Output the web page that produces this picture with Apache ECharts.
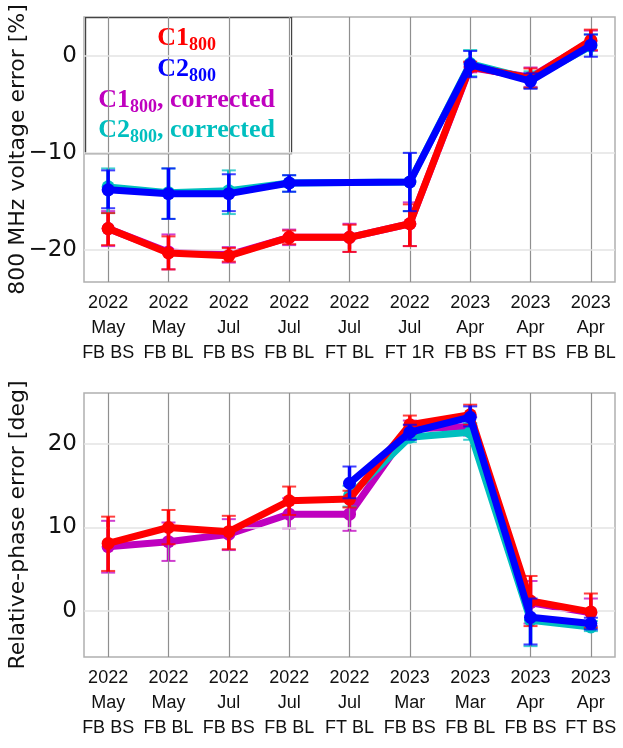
<!DOCTYPE html>
<html>
<head>
<meta charset="utf-8">
<script src="https://cdn.jsdelivr.net/npm/echarts@6/dist/echarts.min.js"></script>
<style>html,body{margin:0;padding:0;background:#fff}#c{width:623px;height:748px}</style>
</head>
<body>
<div id="c"></div>
<script>
// ---------- DATA ----------
const categoriesTop = ['2022\nMay\nFB BS','2022\nMay\nFB BL','2022\nJul\nFB BS','2022\nJul\nFB BL','2022\nJul\nFT BL','2022\nJul\nFT 1R','2023\nApr\nFB BS','2023\nApr\nFT BS','2023\nApr\nFB BL'];
const categoriesBottom = ['2022\nMay\nFB BS','2022\nMay\nFB BL','2022\nJul\nFB BS','2022\nJul\nFB BL','2022\nJul\nFT BL','2023\nMar\nFB BS','2023\nMar\nFB BL','2023\nApr\nFB BS','2023\nApr\nFT BS'];
const yTicksTop = [-20, -10, 0];
const yTicksBottom = [0, 10, 20];

// Top: 800 MHz voltage error [%]
const c1Top    = [-17.8, -20.3, -20.6, -18.7, -18.7, -17.3, -1.1, -2.3, 1.6];
const c1TopLo  = [-19.5, -22.0, -21.2, -19.4, -20.2, -19.6, -1.6, -3.3, 0.6];
const c1TopHi  = [-16.2, -18.6, -19.8, -18.0, -17.4, -15.3, -0.6, -1.3, 2.7];
const c1cTop   = [-17.8, -20.2, -20.5, -18.7, -18.7, -17.3, -1.2, -2.2, 1.5];
const c1cTopLo = [-19.6, -22.0, -21.3, -19.5, -20.2, -19.6, -1.7, -3.2, 0.5];
const c1cTopHi = [-16.0, -18.4, -19.7, -17.9, -17.3, -15.1, -0.7, -1.2, 2.6];
const c2Top    = [-13.8, -14.2, -14.2, -13.1, null, -13.0, -0.9, -2.6, 1.1];
const c2TopLo  = [-15.7, -16.8, -16.0, -14.0, null, -16.0, -2.2, -3.4, -0.1];
const c2TopHi  = [-11.8, -11.6, -12.2, -12.3, null, -10.0, 0.5, -1.8, 2.2];
const c2cTop   = [-13.5, -14.1, -13.9, -13.1, null, -13.0, -0.8, -2.4, 1.0];
const c2cTopLo = [-16.2, -16.8, -16.3, -14.0, null, -16.0, -2.1, -3.3, 0.0];
const c2cTopHi = [-11.6, -11.6, -11.8, -12.3, null, -10.0, 0.6, -1.6, 2.2];

// Bottom: relative-phase error [deg]
const c1Bot    = [8.1, 10.0, 9.5, 13.2, 13.4, 22.3, 23.5, 1.2, -0.1];
const c1BotLo  = [4.8, 8.0, 7.4, 11.5, 12.4, 21.2, 22.3, -1.8, -2.0];
const c1BotHi  = [11.3, 12.1, 11.4, 14.9, 14.4, 23.4, 24.7, 4.2, 2.1];
const c1cBot   = [7.7, 8.3, 9.2, 11.6, 11.6, 21.8, 22.1, 1.0, -0.2];
const c1cBotLo = [4.6, 6.0, 7.3, 9.9, 9.6, 20.8, 21.0, -1.5, -1.8];
const c1cBotHi = [10.8, 10.6, 11.0, 13.5, 13.6, 22.8, 23.2, 3.6, 1.5];
const c2Bot    = [null, null, null, null, 15.3, 21.4, 23.2, -0.75, -1.5];
const c2BotLo  = [null, null, null, null, 13.5, 20.5, 22.1, -4.0, -2.2];
const c2BotHi  = [null, null, null, null, 17.3, 22.3, 24.5, 1.5, -0.8];
const c2cBot   = [null, null, null, null, 13.8, 20.8, 21.4, -1.1, -1.9];
const c2cBotLo = [null, null, null, null, 12.5, 20.2, 20.5, -4.2, -2.4];
const c2cBotHi = [null, null, null, null, 15.0, 21.6, 22.5, 1.2, -1.2];

// ---------- STYLE ----------
const RED = '#ff0000', BLUE = '#0000ff', MAG = '#bf00bf', CYAN = '#00bfbf';
const X_FONT = 'Liberation Sans, sans-serif';
const Y_FONT = 'DejaVu Sans, sans-serif';

function pts(arr){ return arr.map((v,i)=>[i, v]); }
function errs(lo, hi){ const out=[]; lo.forEach((l,i)=>{ if(l!==null && hi[i]!==null) out.push([i,l,hi[i]]); }); return out; }
function minus(v){ return v < 0 ? '\u2212' + Math.abs(v) : String(v); }

function errSeries(name, lo, hi, color, gi, z){
  return {
    type:'custom', name, xAxisIndex:gi, yAxisIndex:gi, z, silent:true,
    data: errs(lo, hi),
    renderItem(params, api){
      const x = api.value(0);
      const p1 = api.coord([x, api.value(1)]);
      const p2 = api.coord([x, api.value(2)]);
      const hw = 7;
      return {type:'group', children:[
        {type:'line', shape:{x1:p1[0],y1:p1[1],x2:p2[0],y2:p2[1]}, style:{stroke:color, lineWidth:3.5}},
        {type:'line', shape:{x1:p1[0]-hw,y1:p1[1],x2:p1[0]+hw,y2:p1[1]}, style:{stroke:color, lineWidth:2, opacity:0.75}},
        {type:'line', shape:{x1:p2[0]-hw,y1:p2[1],x2:p2[0]+hw,y2:p2[1]}, style:{stroke:color, lineWidth:2, opacity:0.75}}
      ]};
    }
  };
}
function lineSeries(name, vals, color, gi, z){
  return {
    type:'line', name, xAxisIndex:gi, yAxisIndex:gi, z, silent:true,
    data: pts(vals), connectNulls:true,
    symbol:'circle', symbolSize:13,
    lineStyle:{color, width:7}, itemStyle:{color},
    animation:false
  };
}
function gridLineSeries(gi, yTicks){
  const d = [];
  for (let i=0;i<9;i++) d.push({xAxis:i, lineStyle:{color:'#8f8f8f', width:1.2, type:'solid'}});
  yTicks.forEach(v=>d.push({yAxis:v, lineStyle:{color:'#e3e3e3', width:1.5, type:'solid'}}));
  return {type:'line', xAxisIndex:gi, yAxisIndex:gi, z:0, data:[], silent:true,
    markLine:{silent:true, symbol:['none','none'], label:{show:false}, animation:false, data:d}};
}

const chart = echarts.init(document.getElementById('c'), null, {renderer:'canvas'});
const xAx = (gi, cats)=>({
  type:'value', gridIndex:gi, min:-0.4, max:8.4,
  axisLine:{show:false}, axisTick:{show:false}, splitLine:{show:false},
  axisLabel:{customValues:[0,1,2,3,4,5,6,7,8], formatter:v=>cats[Math.round(v)],
    showMinLabel:true, showMaxLabel:true, hideOverlap:false,
    fontFamily:X_FONT, fontSize:18, lineHeight:25, color:'#111', margin:9}
});
const yAx = (gi, min, max, ticks, name)=>({
  type:'value', gridIndex:gi, min, max,
  name, nameLocation:'middle', nameGap:55, nameRotate:90, nameMoveOverlap:false,
  nameTextStyle:{fontFamily:Y_FONT, fontSize:22, color:'#111'},
  axisLine:{show:false}, axisTick:{show:false}, splitLine:{show:false},
  axisLabel:{customValues:ticks, formatter:minus, fontFamily:Y_FONT, fontSize:23, color:'#111', margin:7}
});

function legendLine(main, sub, tail, color, y){
  const base = {fontFamily:'Liberation Serif, DejaVu Serif, serif', fontWeight:'bold', fill:color};
  return {type:'text', style:{
    x:101, y, align:'center', verticalAlign:'middle', fill:color,
    text:'{m|'+main+'}{s|'+sub+'}' + (tail ? '{m|'+tail+'}' : ''),
    rich:{ m:Object.assign({fontSize:26}, base), s:Object.assign({fontSize:18, padding:[14,0,0,0]}, base) }
  }};
}

chart.setOption({
  animation:false,
  backgroundColor:'#fff',
  grid:[
    {left:84, right:8, top:17, height:265, show:true, borderColor:'#b0b0b0', borderWidth:1.5, backgroundColor:'transparent', containLabel:false, outerBoundsMode:'none'},
    {left:84, right:8, top:393, height:264, show:true, borderColor:'#b0b0b0', borderWidth:1.5, backgroundColor:'transparent', containLabel:false, outerBoundsMode:'none'}
  ],
  xAxis:[ xAx(0, categoriesTop), xAx(1, categoriesBottom) ],
  yAxis:[ yAx(0, -23.3, 4, yTicksTop, '800 MHz voltage error [%]'),
          yAx(1, -5.5, 26.1, yTicksBottom, 'Relative-phase error [deg]') ],
  series:[
    gridLineSeries(0, yTicksTop),
    gridLineSeries(1, yTicksBottom),
    errSeries('C1c err', c1cTopLo, c1cTopHi, MAG, 0, 2), lineSeries('C1c', c1cTop, MAG, 0, 3),
    errSeries('C2c err', c2cTopLo, c2cTopHi, CYAN, 0, 4), lineSeries('C2c', c2cTop, CYAN, 0, 5),
    errSeries('C1 err', c1TopLo, c1TopHi, RED, 0, 6), lineSeries('C1', c1Top, RED, 0, 7),
    errSeries('C2 err', c2TopLo, c2TopHi, BLUE, 0, 8), lineSeries('C2', c2Top, BLUE, 0, 9),
    errSeries('C1c err b', c1cBotLo, c1cBotHi, MAG, 1, 2), lineSeries('C1c b', c1cBot, MAG, 1, 3),
    errSeries('C2c err b', c2cBotLo, c2cBotHi, CYAN, 1, 4), lineSeries('C2c b', c2cBot, CYAN, 1, 5),
    errSeries('C1 err b', c1BotLo, c1BotHi, RED, 1, 6), lineSeries('C1 b', c1Bot, RED, 1, 7),
    errSeries('C2 err b', c2BotLo, c2BotHi, BLUE, 1, 8), lineSeries('C2 b', c2Bot, BLUE, 1, 9)
  ],
  graphic:[{
    type:'group', left:85, top:17, z:100,
    children:[
      {type:'rect', shape:{x:0,y:0,width:206,height:136}, style:{fill:'#fff', stroke:'#444', lineWidth:1.2}},
      legendLine('C1','800','', RED, 21),
      legendLine('C2','800','', BLUE, 52),
      legendLine('C1','800',', corrected', MAG, 83),
      legendLine('C2','800',', corrected', CYAN, 113)
    ]
  }]
});
</script>
</body>
</html>
